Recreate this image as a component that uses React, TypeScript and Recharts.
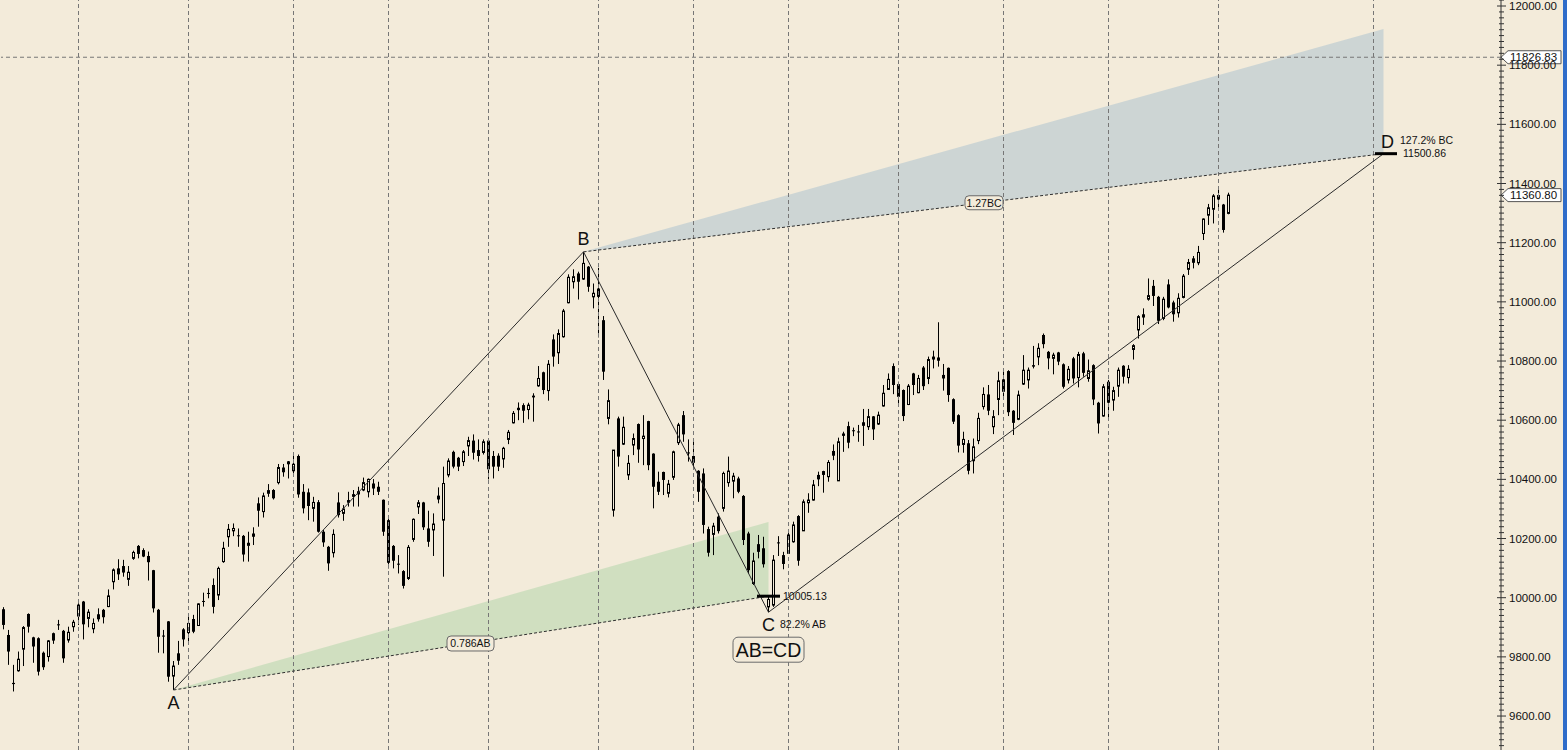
import {
  Area,
  Bar,
  ComposedChart,
  Line,
  ReferenceDot,
  ReferenceLine,
  XAxis,
  YAxis
} from "recharts";

const BG = "#F3EBDA";
const FONT = "'Liberation Sans', Arial, sans-serif";

// daily candles
const opens = [
  9961, 9874, 9712, 9753, 9826, 9945, 9866, 9863, 9814, 9801,
  9880, 9910, 9888, 9857, 9902, 9938, 9987, 9930, 9895, 9944,
  9959, 9970, 10054, 10099, 10107, 10062, 10133, 10175, 10161, 10141,
  10093, 9959, 9872, 9920, 9735, 9812, 9893, 9882, 9928, 9906,
  9989, 10016, 10043, 10009, 10122, 10206, 10226, 10211, 10209, 10177,
  10217, 10319, 10291, 10353, 10364, 10389, 10440, 10461, 10429, 10479,
  10358, 10356, 10302, 10323, 10223, 10172, 10152, 10322, 10285, 10330,
  10350, 10360, 10364, 10358, 10386, 10375, 10331, 10262, 10175, 10115,
  10090, 10065, 10197, 10307, 10322, 10234, 10229, 10345, 10262, 10415,
  10493, 10473, 10460, 10513, 10531, 10499, 10491, 10531, 10479, 10480,
  10469, 10535, 10591, 10642, 10651, 10636, 10683, 10716, 10762, 10700,
  10873, 10828, 10882, 10997, 11068, 11096, 11077, 11119, 11017, 11045,
  10938, 10606, 10296, 10606, 10519, 10415, 10516, 10587, 10538, 10597,
  10487, 10392, 10425, 10353, 10407, 10524, 10617, 10491, 10479, 10429,
  10420, 10232, 10214, 10274, 10302, 10389, 10394, 10403, 10344, 10217,
  10048, 10181, 10167, 9969, 9975, 10187, 10144, 10150, 10189, 10276,
  10226, 10321, 10330, 10415, 10428, 10409, 10496, 10395, 10555, 10580,
  10566, 10562, 10593, 10578, 10613, 10587, 10648, 10704, 10783, 10722,
  10702, 10653, 10758, 10693, 10778, 10741, 10815, 10812, 10753, 10777,
  10671, 10617, 10518, 10522, 10463, 10531, 10646, 10687, 10578, 10670,
  10738, 10766, 10632, 10603, 10722, 10736, 10786, 10814, 10888, 10831,
  10809, 10829, 10789, 10736, 10809, 10744, 10826, 10741, 10786, 10659,
  10614, 10730, 10668, 10715, 10784, 10744, 10839, 10905, 10958, 11009,
  11054, 11017, 10944, 11059, 10998, 10963, 11015, 11110, 11147, 11132,
  11231, 11293, 11313, 11361, 11329, 11299
];

const highs = [
  9968, 9891, 9773, 9818, 9904, 9947, 9868, 9866, 9818, 9857,
  9882, 9925, 9891, 9902, 9925, 9981, 9989, 9961, 9930, 9964,
  9962, 10028, 10099, 10130, 10128, 10107, 10159, 10178, 10167, 10156,
  10094, 9962, 9891, 9921, 9786, 9854, 9897, 9938, 9942, 9981,
  10017, 10032, 10065, 10105, 10189, 10249, 10251, 10234, 10212, 10223,
  10238, 10339, 10355, 10384, 10367, 10452, 10452, 10462, 10490, 10484,
  10384, 10369, 10341, 10330, 10229, 10175, 10231, 10356, 10313, 10358,
  10364, 10375, 10406, 10403, 10401, 10392, 10332, 10268, 10178, 10144,
  10093, 10178, 10268, 10330, 10324, 10294, 10285, 10373, 10443, 10471,
  10497, 10476, 10499, 10544, 10552, 10535, 10535, 10535, 10496, 10488,
  10510, 10567, 10631, 10660, 10657, 10659, 10691, 10783, 10764, 10803,
  10890, 10907, 10976, 11093, 11110, 11102, 11169, 11121, 11062, 11115,
  10952, 10704, 10499, 10612, 10612, 10482, 10555, 10589, 10617, 10598,
  10488, 10426, 10426, 10398, 10497, 10591, 10631, 10535, 10527, 10431,
  10437, 10240, 10253, 10285, 10426, 10477, 10422, 10409, 10347, 10223,
  10152, 10212, 10206, 10003, 10144, 10208, 10155, 10223, 10257, 10279,
  10332, 10353, 10398, 10426, 10429, 10465, 10518, 10541, 10561, 10595,
  10575, 10584, 10638, 10638, 10614, 10629, 10719, 10758, 10792, 10730,
  10704, 10722, 10760, 10753, 10783, 10815, 10835, 10931, 10790, 10778,
  10674, 10620, 10561, 10533, 10538, 10625, 10711, 10719, 10634, 10764,
  10764, 10769, 10634, 10700, 10820, 10778, 10851, 10860, 10893, 10834,
  10828, 10831, 10792, 10783, 10814, 10831, 10831, 10805, 10789, 10662,
  10722, 10736, 10713, 10778, 10786, 10786, 10857, 10955, 10978, 11079,
  11074, 11020, 11017, 11076, 11004, 11029, 11094, 11145, 11155, 11189,
  11282, 11331, 11364, 11391, 11331, 11369
];

const lows = [
  9893, 9773, 9683, 9750, 9769, 9882, 9780, 9737, 9756, 9784,
  9844, 9891, 9780, 9848, 9885, 9908, 9859, 9900, 9880, 9919,
  9913, 9968, 10028, 10060, 10071, 10040, 10128, 10133, 10137, 10058,
  9950, 9814, 9812, 9716, 9688, 9773, 9835, 9848, 9880, 9905,
  9970, 9998, 9947, 9992, 10118, 10172, 10208, 10172, 10122, 10122,
  10178, 10240, 10271, 10341, 10332, 10383, 10409, 10403, 10409, 10338,
  10285, 10262, 10257, 10220, 10172, 10091, 10136, 10271, 10260, 10308,
  10308, 10308, 10360, 10339, 10347, 10347, 10209, 10099, 10099, 10082,
  10031, 10060, 10189, 10283, 10229, 10172, 10141, 10319, 10071, 10407,
  10437, 10428, 10445, 10479, 10467, 10460, 10484, 10400, 10403, 10428,
  10439, 10519, 10589, 10600, 10591, 10603, 10595, 10713, 10688, 10666,
  10781, 10790, 10879, 10995, 11045, 11008, 11074, 11034, 10978, 10880,
  10736, 10586, 10274, 10443, 10516, 10398, 10482, 10456, 10448, 10431,
  10302, 10347, 10347, 10339, 10398, 10516, 10527, 10460, 10445, 10324,
  10217, 10139, 10144, 10217, 10291, 10375, 10336, 10353, 10178, 10082,
  10043, 10133, 10102, 9951, 9969, 10141, 10096, 10148, 10186, 10108,
  10226, 10287, 10328, 10377, 10355, 10392, 10465, 10395, 10493, 10505,
  10546, 10527, 10513, 10567, 10533, 10584, 10646, 10702, 10688, 10646,
  10597, 10651, 10685, 10691, 10702, 10722, 10775, 10781, 10700, 10662,
  10587, 10491, 10490, 10417, 10420, 10519, 10636, 10617, 10553, 10617,
  10677, 10614, 10550, 10600, 10719, 10707, 10775, 10786, 10843, 10772,
  10755, 10786, 10707, 10724, 10724, 10711, 10747, 10730, 10651, 10555,
  10612, 10603, 10632, 10679, 10724, 10724, 10805, 10876, 10922, 11004,
  10986, 10925, 10938, 10978, 10933, 10947, 11012, 11091, 11113, 11124,
  11209, 11260, 11265, 11308, 11234, 11296
];

const closes = [
  9908, 9818, 9708, 9792, 9899, 9902, 9835, 9750, 9765, 9854,
  9855, 9907, 9795, 9883, 9917, 9975, 9910, 9951, 9913, 9927,
  9934, 10006, 10094, 10079, 10085, 10086, 10153, 10148, 10139, 10120,
  9964, 9868, 9870, 9733, 9769, 9787, 9859, 9913, 9885, 9979,
  9986, 10014, 9969, 10099, 10167, 10231, 10234, 10208, 10146, 10184,
  10206, 10294, 10344, 10362, 10336, 10440, 10424, 10451, 10451, 10349,
  10302, 10310, 10322, 10223, 10187, 10116, 10214, 10279, 10300, 10321,
  10341, 10349, 10389, 10400, 10369, 10358, 10223, 10118, 10125, 10113,
  10040, 10170, 10265, 10321, 10238, 10189, 10249, 10332, 10386, 10462,
  10443, 10443, 10493, 10531, 10490, 10479, 10527, 10434, 10443, 10443,
  10505, 10559, 10623, 10634, 10632, 10651, 10677, 10741, 10702, 10789,
  10815, 10893, 10969, 11083, 11085, 11068, 11130, 11051, 11029, 11017,
  10764, 10666, 10499, 10477, 10576, 10454, 10538, 10501, 10546, 10448,
  10375, 10358, 10398, 10384, 10493, 10584, 10552, 10489, 10456, 10358,
  10246, 10152, 10242, 10225, 10420, 10428, 10411, 10358, 10195, 10093,
  10124, 10155, 10113, 9994, 10127, 10185, 10114, 10212, 10246, 10125,
  10324, 10330, 10381, 10400, 10415, 10457, 10480, 10527, 10547, 10524,
  10563, 10560, 10581, 10612, 10569, 10617, 10691, 10738, 10719, 10679,
  10614, 10715, 10719, 10741, 10715, 10805, 10805, 10801, 10741, 10685,
  10595, 10514, 10535, 10429, 10510, 10606, 10687, 10632, 10612, 10733,
  10696, 10627, 10591, 10685, 10769, 10769, 10781, 10843, 10857, 10809,
  10820, 10798, 10713, 10772, 10741, 10822, 10760, 10767, 10670, 10589,
  10713, 10659, 10700, 10769, 10747, 10772, 10852, 10950, 10947, 11021,
  11020, 10936, 11009, 10981, 10958, 11012, 11087, 11133, 11132, 11167,
  11280, 11318, 11358, 11346, 11243, 11360.8
];

// trading-day slots on the x axis (candles plus the projected part up to D)
const slotCount = 300;
const monthLines = [15, 37, 58, 77, 97, 119, 138, 157, 179, 200, 221, 243, 274];

const majorTicks = [9600, 9800, 10000, 10200, 10400, 10600, 10800, 11000, 11200, 11400, 11600, 11800, 12000];
const minorTicks: number[] = [];
for (let v = 9500; v <= 12020; v += 20) minorTicks.push(v);

// AB=CD pattern
const pointA = { slot: 34, price: 9688 };
const pointB = { slot: 116, price: 11169 };
const pointC = { slot: 153, price: 9951 };
const pointD = { slot: 276, price: 11500.86 };
const retrace786 = 10005.13;
const retrace618 = 10256;
const extension1618 = 11922;
const markerPrice = 11826.83;
const lastPrice = 11360.8;

const rows = Array.from({ length: slotCount }, (_, slot) => {
  const has = slot < opens.length;
  const row: Record<string, any> = {
    slot,
    open: has ? opens[slot] : null,
    high: has ? highs[slot] : null,
    low: has ? lows[slot] : null,
    close: has ? closes[slot] : null,
    range: has ? [lows[slot], highs[slot]] : null,
    zigzag: null,
    legAC: null,
    legBD: null,
    greenZone: null,
    blueZone: null
  };
  if (slot === pointA.slot) {
    row.zigzag = pointA.price;
    row.legAC = pointA.price;
    row.greenZone = [pointA.price, pointA.price];
  }
  if (slot === pointB.slot) {
    row.zigzag = pointB.price;
    row.legBD = pointB.price;
    row.blueZone = [pointB.price, pointB.price];
  }
  if (slot === pointC.slot) {
    row.zigzag = pointC.price;
    row.legAC = retrace786;
    row.greenZone = [retrace786, retrace618];
  }
  if (slot === pointD.slot) {
    row.zigzag = pointD.price;
    row.legBD = pointD.price;
    row.blueZone = [pointD.price, extension1618];
  }
  return row;
});

const acLabelSlot = 93;
const acLabelPrice = pointA.price + ((acLabelSlot - pointA.slot) / (pointC.slot - pointA.slot)) * (retrace786 - pointA.price);
const bdLabelSlot = 196;
const bdLabelPrice = pointB.price + ((bdLabelSlot - pointB.slot) / (pointD.slot - pointB.slot)) * (pointD.price - pointB.price);

function Candle(props: any) {
  const { x, y, width, height, payload } = props;
  if (!payload || payload.high == null || !Number.isFinite(y)) return <g />;
  const { open, close, high, low } = payload;
  const cx = x + width / 2;
  const span = high - low;
  const py = (v: number) => (span > 0 ? y + ((high - v) / span) * height : y);
  const top = py(Math.max(open, close));
  const bodyH = Math.max(py(Math.min(open, close)) - top, 1);
  return (
    <g>
      <line x1={cx} x2={cx} y1={y} y2={y + height} stroke="#000" strokeWidth={1} />
      {close >= open ? (
        <rect x={cx - 1} y={top} width={2} height={bodyH} fill={BG} stroke="#000" strokeWidth={1} />
      ) : (
        <rect x={cx - 1.5} y={top} width={3} height={bodyH} fill="#000" />
      )}
    </g>
  );
}

function PriceTick(props: any) {
  const { x, y, payload } = props;
  const value = Number(payload.value);
  const major = majorTicks.includes(value);
  return (
    <g>
      <line x1={x - (major ? 4 : 2)} x2={x + (major ? 5 : 3)} y1={y} y2={y} stroke="#333" strokeWidth={1} />
      {major && (
        <text x={x + 8} y={y + 4} fontSize={11.5} fontFamily={FONT} fill="#111">
          {value.toFixed(2)}
        </text>
      )}
    </g>
  );
}

function centerOf(viewBox: any) {
  if (!viewBox) return { cx: 0, cy: 0 };
  return { cx: viewBox.x + (viewBox.width || 0) / 2, cy: viewBox.y + (viewBox.height || 0) / 2 };
}

function PointText({ viewBox, text, dx = 0, dy = 0, size = 10.5, anchor = "start" }: any) {
  const { cx, cy } = centerOf(viewBox);
  return (
    <text x={cx + dx} y={cy + dy} fontSize={size} fontFamily={FONT} fill="#111" textAnchor={anchor}>
      {text}
    </text>
  );
}

function LevelMark({ viewBox, left, right }: any) {
  const { cx, cy } = centerOf(viewBox);
  return <line x1={cx - left} x2={cx + right} y1={cy} y2={cy} stroke="#000" strokeWidth={3} />;
}

function FramedText({ viewBox, text, dx = 0, dy = 0, w, h, size = 10.5, r = 4 }: any) {
  const { cx, cy } = centerOf(viewBox);
  const mx = cx + dx;
  const my = cy + dy;
  return (
    <g>
      <rect x={mx - w / 2} y={my - h / 2} width={w} height={h} rx={r} fill={BG} stroke="#6a6a6a" strokeWidth={1} />
      <text x={mx} y={my + size * 0.36} fontSize={size} fontFamily={FONT} fill="#111" textAnchor="middle">
        {text}
      </text>
    </g>
  );
}

function AxisTag({ viewBox, text }: any) {
  if (!viewBox) return null;
  const ax = viewBox.x + viewBox.width;
  const cy = viewBox.y;
  const d = `M${ax},${cy} L${ax + 7},${cy - 6.5} L${ax + 60},${cy - 6.5} L${ax + 60},${cy + 6.5} L${ax + 7},${cy + 6.5} Z`;
  return (
    <g>
      <path d={d} fill="#fff" stroke="#555" strokeWidth={1} />
      <text x={ax + 9} y={cy + 4} fontSize={11.5} fontFamily={FONT} fill="#111">
        {text}
      </text>
    </g>
  );
}

export default function App() {
  return (
    <div style={{ position: "absolute", left: 0, top: 0, width: 1567, height: 750, background: BG, overflow: "hidden" }}>
      <ComposedChart width={1567} height={750} data={rows} margin={{ top: 0, right: 0, bottom: 0, left: 1 }}>
        <XAxis dataKey="slot" type="category" hide />
        <YAxis
          orientation="right"
          type="number"
          domain={[9485.2, 12020.3]}
          allowDataOverflow
          ticks={minorTicks}
          interval={0}
          tick={<PriceTick />}
          tickLine={false}
          tickSize={0}
          tickMargin={0}
          axisLine={{ stroke: "#333" }}
          width={66}
        />

        {monthLines.map((slot) => (
          <ReferenceLine key={slot} x={slot} stroke="#767676" strokeDasharray="4 3" />
        ))}
        <ReferenceLine
          y={markerPrice}
          stroke="#767676"
          strokeDasharray="4 3"
          label={<AxisTag text="11826.83" />}
        />

        <Area
          dataKey="blueZone"
          type="linear"
          connectNulls
          stroke="none"
          fill="#7fa9c9"
          fillOpacity={0.33}
          isAnimationActive={false}
          dot={false}
          activeDot={false}
        />

        <Bar dataKey="range" shape={<Candle />} isAnimationActive={false} />

        <Area
          dataKey="greenZone"
          type="linear"
          connectNulls
          stroke="none"
          fill="#78c37d"
          fillOpacity={0.28}
          isAnimationActive={false}
          dot={false}
          activeDot={false}
        />

        <Line dataKey="legAC" type="linear" connectNulls stroke="#2e2e2e" strokeWidth={1} strokeDasharray="3 2" dot={false} activeDot={false} isAnimationActive={false} />
        <Line dataKey="legBD" type="linear" connectNulls stroke="#2e2e2e" strokeWidth={1} strokeDasharray="3 2" dot={false} activeDot={false} isAnimationActive={false} />
        <Line dataKey="zigzag" type="linear" connectNulls stroke="#2a2a2a" strokeWidth={1} dot={false} activeDot={false} isAnimationActive={false} />

        <ReferenceLine y={lastPrice} stroke="none" label={<AxisTag text="11360.80" />} />

        <ReferenceDot x={acLabelSlot} y={acLabelPrice} r={0} fill="none" stroke="none" label={<FramedText text="0.786AB" dx={2} w={47} h={15} />} />
        <ReferenceDot x={bdLabelSlot} y={bdLabelPrice} r={0} fill="none" stroke="none" label={<FramedText text="1.27BC" dx={0.5} w={38} h={14} />} />

        <ReferenceDot x={pointA.slot} y={pointA.price} r={0} fill="none" stroke="none" label={<PointText text="A" dy={19} size={18} anchor="middle" />} />
        <ReferenceDot x={pointB.slot} y={pointB.price} r={0} fill="none" stroke="none" label={<PointText text="B" dy={-7} size={18} anchor="middle" />} />
        <ReferenceDot x={pointC.slot} y={pointC.price} r={0} fill="none" stroke="none" label={<PointText text="C" dy={19} size={18} anchor="middle" />} />
        <ReferenceDot x={pointC.slot} y={pointC.price} r={0} fill="none" stroke="none" label={<PointText text="82.2% AB" dx={11.5} dy={16} size={10.5} />} />
        <ReferenceDot x={pointC.slot} y={pointC.price} r={0} fill="none" stroke="none" label={<FramedText text="AB=CD" dy={37.5} w={71} h={25} size={19.5} r={5} />} />
        <ReferenceDot x={pointC.slot} y={retrace786} r={0} fill="none" stroke="none" label={<LevelMark left={11.5} right={11.5} />} />
        <ReferenceDot x={pointC.slot} y={retrace786} r={0} fill="none" stroke="none" label={<PointText text="10005.13" dx={14.5} dy={4} size={10.5} />} />

        <ReferenceDot x={pointD.slot} y={pointD.price} r={0} fill="none" stroke="none" label={<LevelMark left={8.5} right={13.5} />} />
        <ReferenceDot x={pointD.slot} y={pointD.price} r={0} fill="none" stroke="none" label={<PointText text="D" dx={4} dy={-5.5} size={18} anchor="middle" />} />
        <ReferenceDot x={pointD.slot} y={pointD.price} r={0} fill="none" stroke="none" label={<PointText text="127.2% BC" dx={16.5} dy={-9.5} size={10.5} />} />
        <ReferenceDot x={pointD.slot} y={pointD.price} r={0} fill="none" stroke="none" label={<PointText text="11500.86" dx={19.5} dy={3.5} size={10.5} />} />
      </ComposedChart>
      <div style={{ position: "absolute", left: 1563, top: 0, width: 4, height: 750, background: "#2f6cc9" }} />
    </div>
  );
}
